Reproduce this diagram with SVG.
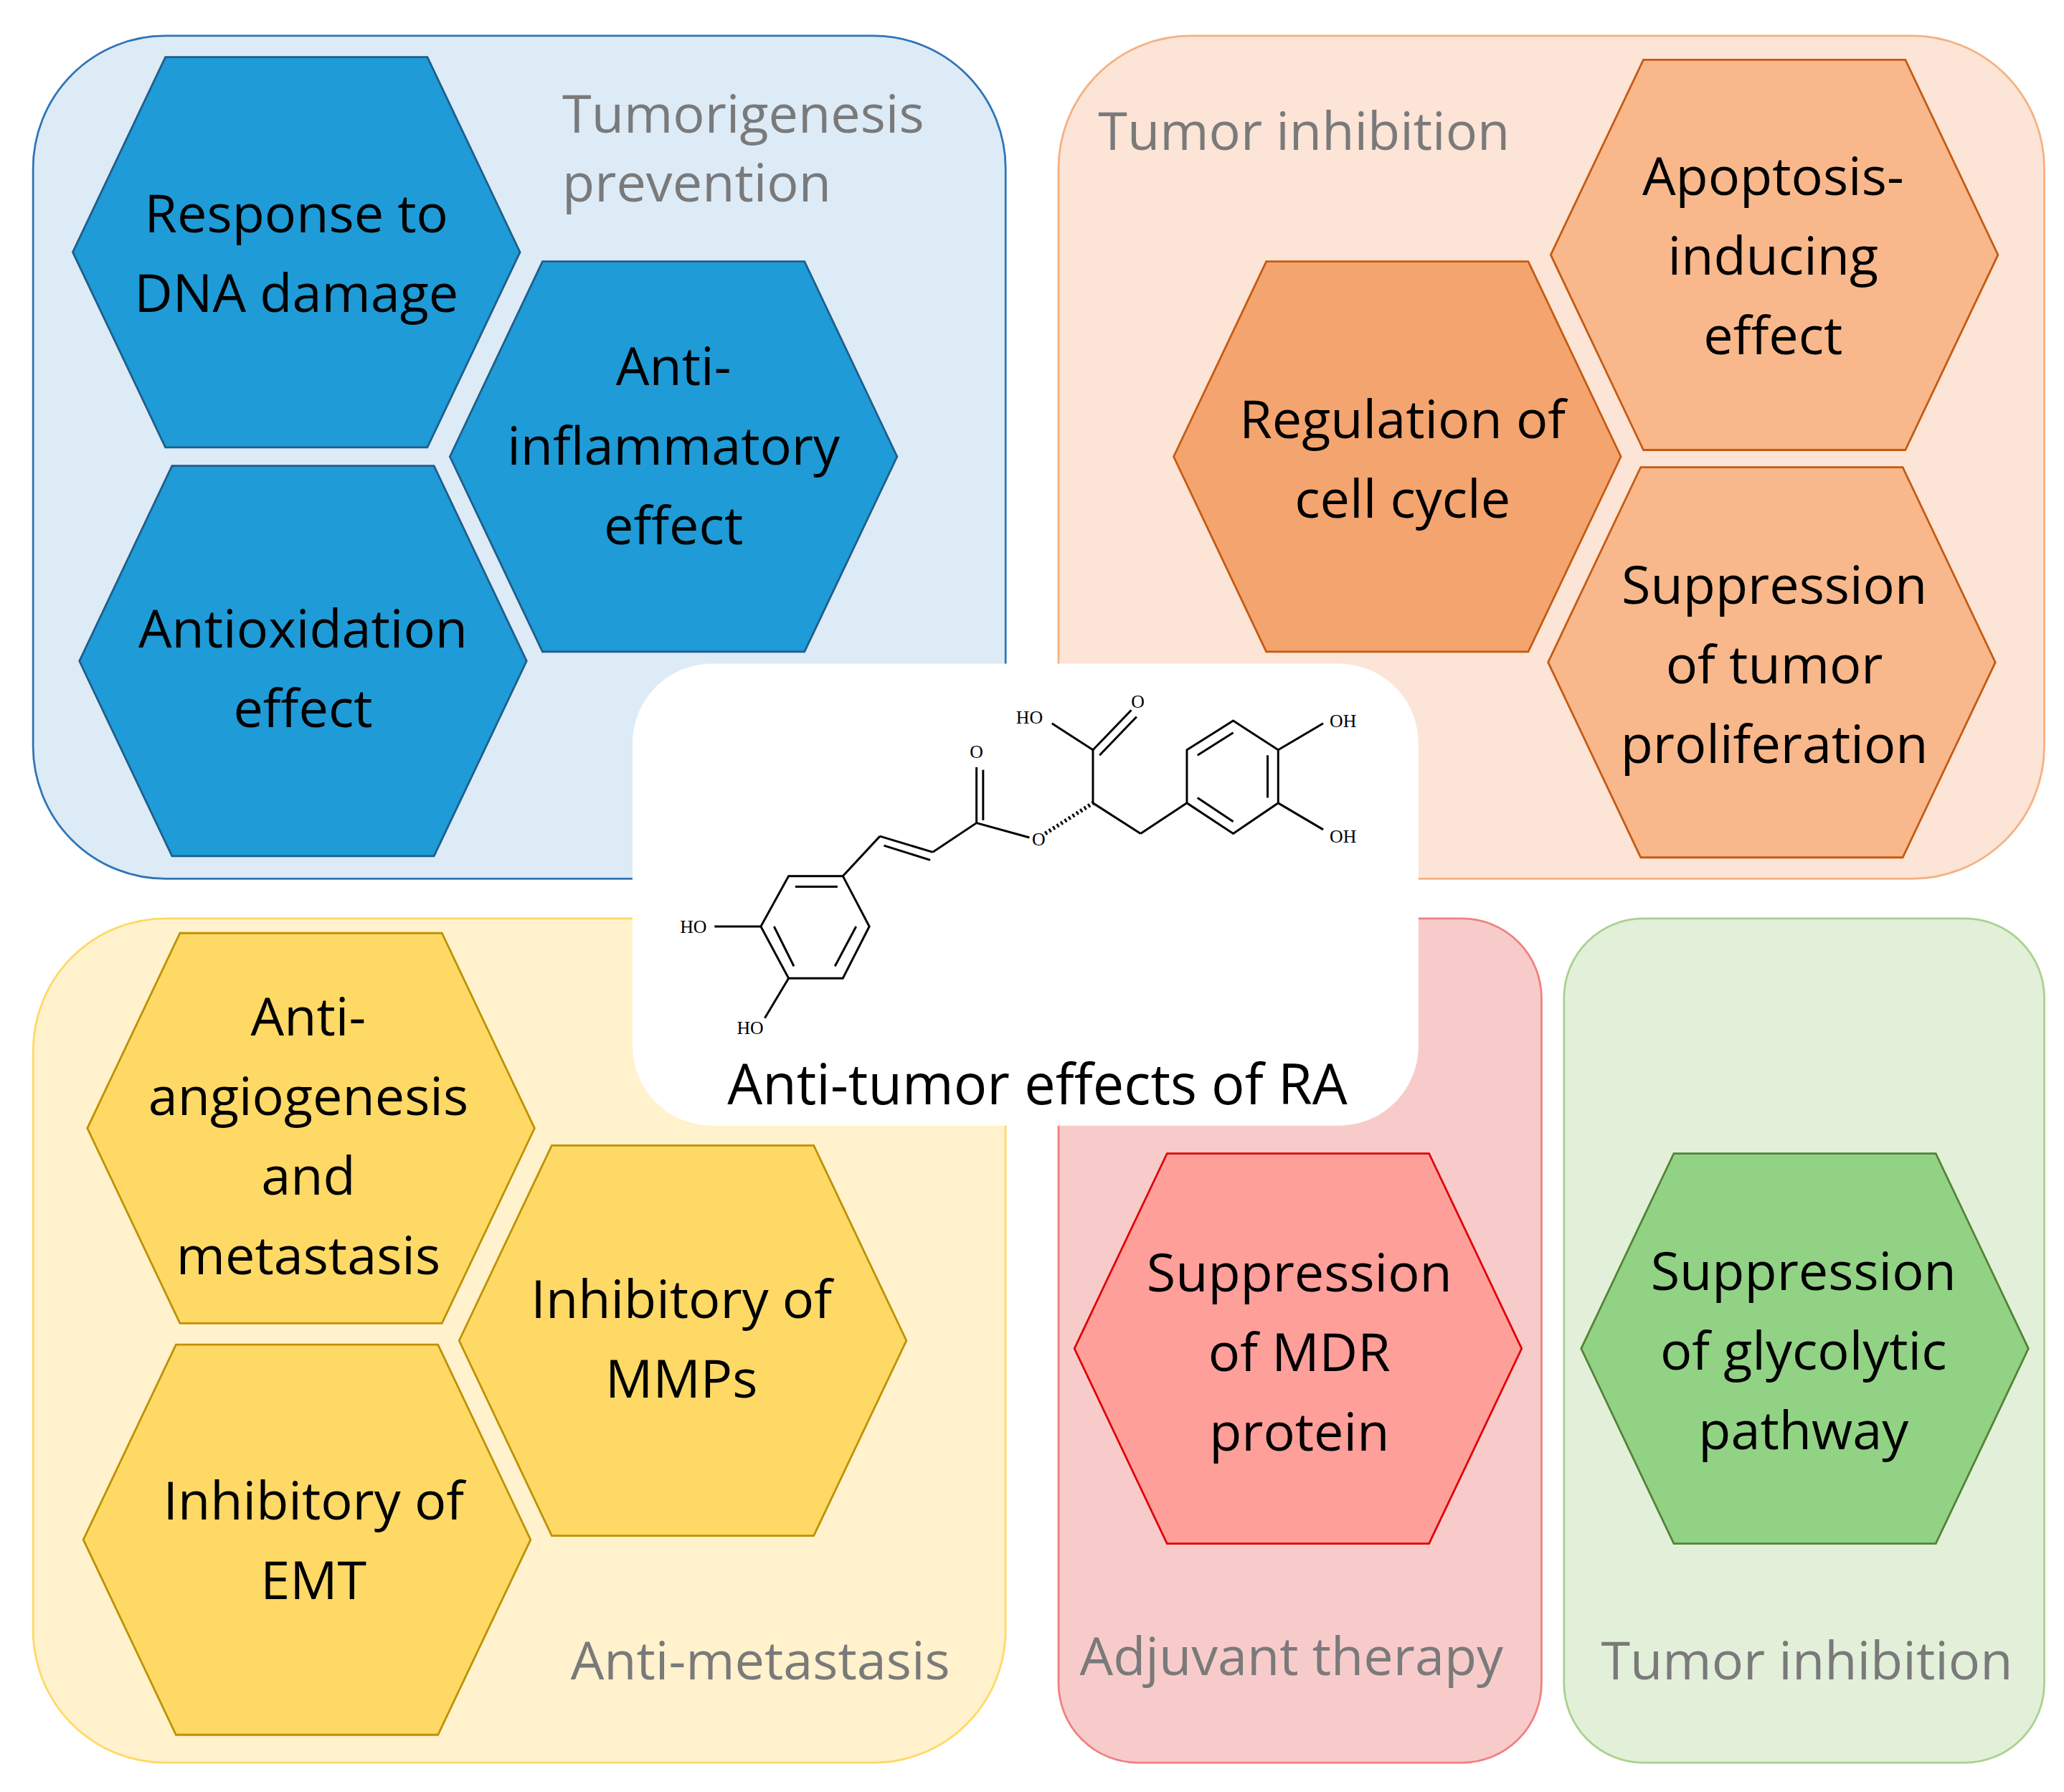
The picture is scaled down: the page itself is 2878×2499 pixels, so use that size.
<svg xmlns="http://www.w3.org/2000/svg" xmlns:xlink="http://www.w3.org/1999/xlink" width="2878" height="2499" viewBox="0 0 2878 2499">
<style>
.t{font-family:"Open Sans","Noto Sans",sans-serif;font-size:40px;text-anchor:middle;fill:#000}
.lab{font-family:"Open Sans","Noto Sans",sans-serif;font-size:40px;fill:#7a7a7a}
.m{font-family:"Liberation Serif",serif;font-size:14px;fill:#000;text-anchor:middle}
.b{stroke:#000;stroke-width:1.6;fill:none}
.h{stroke-width:1.5}
</style>
<defs><polygon id="hx" points="-169,0 -99,-147 99,-147 169,0 99,147 -99,147"/></defs>
<rect width="2878" height="2499" fill="#fff"/>
<g transform="scale(1.845,1.851)">
<g id="panels">
<rect x="25" y="27" width="735" height="635" rx="100" fill="#DDEBF7" stroke="#2E75B6" stroke-width="1.5"/>
<rect x="800" y="27" width="745" height="635" rx="100" fill="#FCE4D6" stroke="#F4B183" stroke-width="1.5"/>
<rect x="25" y="692" width="735" height="636" rx="100" fill="#FFF2CC" stroke="#FFD966" stroke-width="1.5"/>
<rect x="800" y="692" width="365" height="636" rx="60" fill="#F8CBCB" stroke="#F08080" stroke-width="1.5"/>
<rect x="1182" y="692" width="363" height="636" rx="60" fill="#E2F0D9" stroke="#A9D18E" stroke-width="1.5"/>
<text class="lab" x="425" y="100">Tumorigenesis</text>
<text class="lab" x="425" y="152">prevention</text>
<text class="lab" x="830" y="113">Tumor inhibition</text>
<text class="lab" x="718" y="1265" text-anchor="end">Anti-metastasis</text>
<text class="lab" x="816" y="1262">Adjuvant therapy</text>
<text class="lab" x="1210" y="1265">Tumor inhibition</text>
</g>
<g id="n1"><use href="#hx" x="224" y="190" fill="#1F9BD7" stroke="#1F5E8A" class="h"/><text class="t" x="224" y="175">Response to</text><text class="t" x="224" y="235">DNA damage</text></g>
<g id="n2"><use href="#hx" x="509" y="344" fill="#1F9BD7" stroke="#1F5E8A" class="h"/><text class="t" x="509" y="290">Anti-</text><text class="t" x="509" y="350">inflammatory</text><text class="t" x="509" y="410">effect</text></g>
<g id="n3"><use href="#hx" x="229" y="498" fill="#1F9BD7" stroke="#1F5E8A" class="h"/><text class="t" x="229" y="488">Antioxidation</text><text class="t" x="229" y="548">effect</text></g>
<g id="n4"><use href="#hx" x="1341" y="192" fill="#F8B88B" stroke="#C55A11" class="h"/><text class="t" x="1340" y="147">Apoptosis-</text><text class="t" x="1340" y="207">inducing</text><text class="t" x="1340" y="267">effect</text></g>
<g id="n5"><use href="#hx" x="1056" y="344" fill="#F4A46E" stroke="#C55A11" class="h"/><text class="t" x="1060" y="330">Regulation of</text><text class="t" x="1060" y="390">cell cycle</text></g>
<g id="n6"><use href="#hx" x="1339" y="499" fill="#F8B88B" stroke="#C55A11" class="h"/><text class="t" x="1341" y="455">Suppression</text><text class="t" x="1341" y="515">of tumor</text><text class="t" x="1341" y="575">proliferation</text></g>
<g id="n7"><use href="#hx" x="235" y="850" fill="#FFD966" stroke="#BF9000" class="h"/><text class="t" x="233" y="780">Anti-</text><text class="t" x="233" y="840">angiogenesis</text><text class="t" x="233" y="900">and</text><text class="t" x="233" y="960">metastasis</text></g>
<g id="n8"><use href="#hx" x="516" y="1010" fill="#FFD966" stroke="#BF9000" class="h"/><text class="t" x="515" y="993">Inhibitory of</text><text class="t" x="515" y="1053">MMPs</text></g>
<g id="n9"><use href="#hx" x="232" y="1160" fill="#FFD966" stroke="#BF9000" class="h"/><text class="t" x="237" y="1145">Inhibitory of</text><text class="t" x="237" y="1205">EMT</text></g>
<g id="n10"><use href="#hx" x="981" y="1016" fill="#FF9F9A" stroke="#E00000" class="h"/><text class="t" x="982" y="973">Suppression</text><text class="t" x="982" y="1033">of MDR</text><text class="t" x="982" y="1093">protein</text></g>
<g id="n11"><use href="#hx" x="1364" y="1016" fill="#92D285" stroke="#548235" class="h"/><text class="t" x="1363" y="972">Suppression</text><text class="t" x="1363" y="1032">of glycolytic</text><text class="t" x="1363" y="1092">pathway</text></g>
<g id="center">
<rect x="478" y="500" width="594" height="348" rx="60" fill="#fff"/>
<text class="t" x="784" y="832" style="font-size:42px">Anti-tumor effects of RA</text>
<g class="b">
<polygon points="596,660 637,660 657,698 637,737 596,737 575,698"/>
<line x1="601" y1="668" x2="633" y2="668"/><line x1="647" y1="698" x2="631" y2="728"/><line x1="585" y1="698" x2="600" y2="728"/>
<line x1="575" y1="698" x2="540" y2="698"/><line x1="596" y1="737" x2="578" y2="767"/>
<line x1="637" y1="660" x2="665" y2="630"/><line x1="665" y1="630" x2="705" y2="642"/><line x1="668" y1="637" x2="703" y2="648"/>
<line x1="705" y1="642" x2="738" y2="620"/><line x1="738" y1="620" x2="738" y2="578"/><line x1="743" y1="618" x2="743" y2="580"/>
<line x1="738" y1="620" x2="778" y2="631"/>
<line x1="790" y1="628" x2="826" y2="605" stroke-dasharray="1.5,2" stroke-width="3"/>
<line x1="826" y1="605" x2="826" y2="565"/><line x1="826" y1="565" x2="795" y2="545"/>
<line x1="826" y1="565" x2="855" y2="535"/><line x1="831" y1="569" x2="859" y2="540"/>
<line x1="826" y1="605" x2="862" y2="628"/><line x1="862" y1="628" x2="897" y2="605"/>
<polygon points="897,565 932,543 966,565 966,605 932,628 897,605"/>
<line x1="905" y1="569" x2="932" y2="552"/><line x1="958" y1="569" x2="958" y2="601"/><line x1="905" y1="601" x2="932" y2="619"/>
<line x1="966" y1="565" x2="1000" y2="545"/><line x1="966" y1="605" x2="1000" y2="625"/>
</g>
<text class="m" x="524" y="703">HO</text><text class="m" x="567" y="779">HO</text>
<text class="m" x="738" y="571">O</text><text class="m" x="785" y="637">O</text>
<text class="m" x="778" y="545">HO</text><text class="m" x="860" y="533">O</text>
<text class="m" x="1015" y="548">OH</text><text class="m" x="1015" y="635">OH</text>
</g>
</g>
</svg>
